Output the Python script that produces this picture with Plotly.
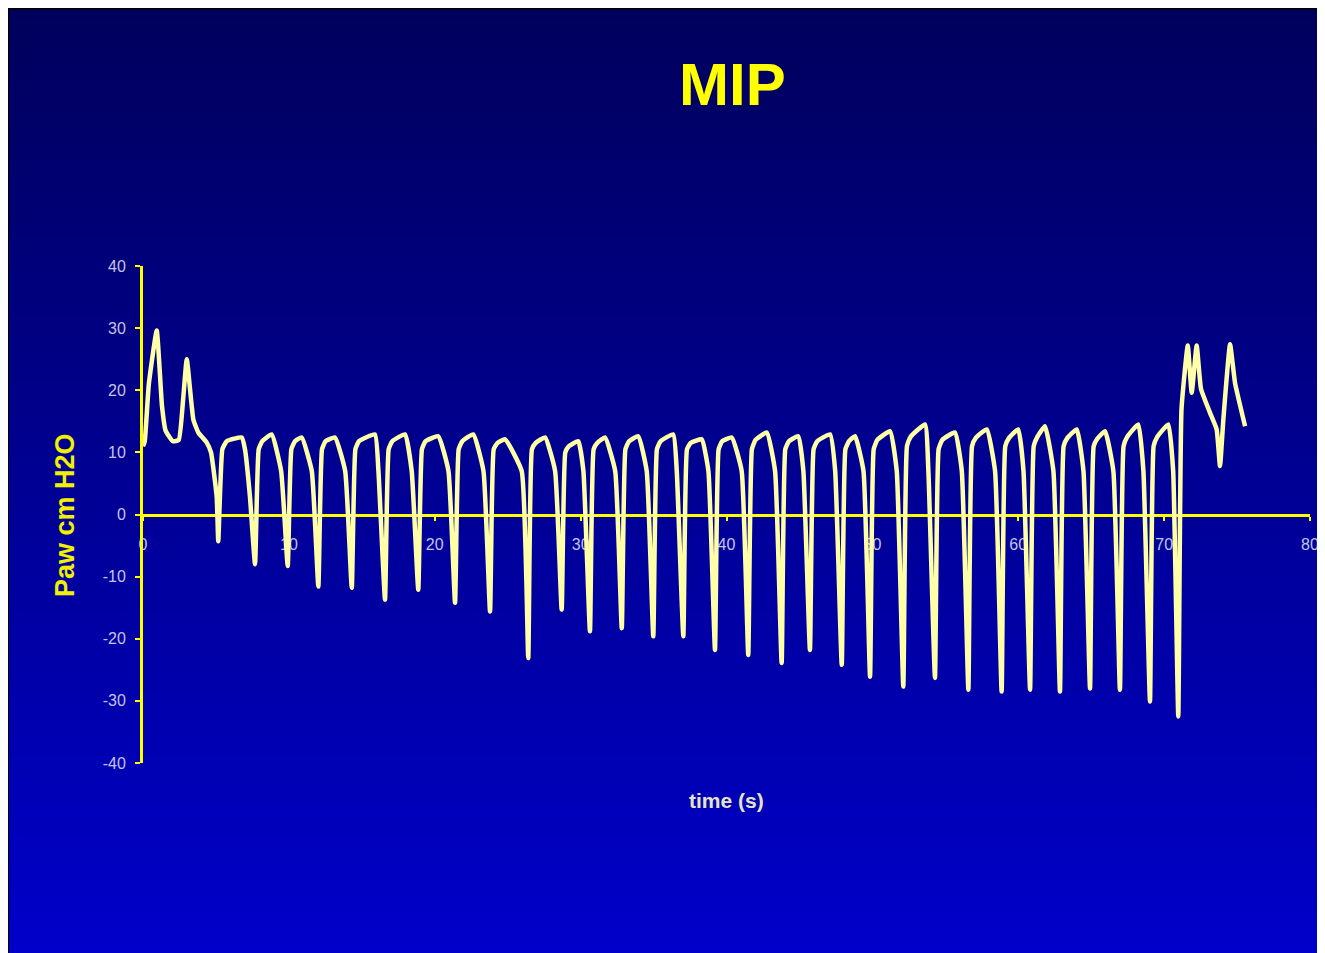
import plotly.graph_objects as go

# ---- data ----
time_s = [
    0.00, 0.12, 0.40, 0.94, 1.30, 1.55, 2.05, 2.45, 2.75, 3.00, 3.45, 3.79, 4.36, 4.66, 5.05,
    5.16, 5.44, 5.74, 6.77, 6.99, 7.33,
    7.68, 7.93, 8.18, 8.82, 9.47,
    9.92, 10.17, 10.42, 10.88, 11.57,
    12.02, 12.27, 12.52, 13.16, 13.86,
    14.31, 14.56, 14.81, 15.90, 16.14,
    16.59, 16.84, 17.09, 17.96, 18.42,
    18.87, 19.12, 19.37, 20.24, 20.94,
    21.39, 21.64, 21.89, 22.64, 23.34,
    23.79, 24.04, 24.29, 24.82, 25.96,
    26.41, 26.66, 26.91, 27.56, 28.25,
    28.70, 28.95, 29.20, 29.84, 30.19,
    30.64, 30.89, 31.14, 31.67, 32.37,
    32.82, 33.07, 33.32, 33.95, 34.53,
    34.98, 35.23, 35.48, 36.35, 36.59,
    37.04, 37.29, 37.54, 38.30, 38.76,
    39.21, 39.46, 39.71, 40.36, 41.04,
    41.49, 41.74, 41.99, 42.76, 43.33,
    43.78, 44.03, 44.28, 44.92, 45.27,
    45.72, 45.97, 46.22, 47.10, 47.45,
    47.90, 48.15, 48.40, 48.81, 49.39,
    49.84, 50.09, 50.34, 51.21, 51.67,
    52.12, 52.37, 52.62, 53.61, 53.84,
    54.29, 54.54, 54.79, 55.66, 56.13,
    56.58, 56.83, 57.08, 57.84, 58.41,
    58.86, 59.11, 59.36, 60.00, 60.36,
    60.81, 61.06, 61.31, 61.83, 62.41,
    62.86, 63.11, 63.36, 64.01, 64.47,
    64.92, 65.17, 65.42, 65.95, 66.52,
    66.97, 67.22, 67.47, 68.23, 68.58,
    69.03, 69.28, 69.53, 70.29, 70.62,
    70.97, 71.19, 71.62, 71.89, 72.23, 72.53, 73.14, 73.60, 73.83, 74.06, 74.52, 74.86, 75.55,
]
paw_cmh2o = [
    11.0, 11.8, 21.0, 29.6, 17.5, 13.5, 11.8, 12.0, 18.5, 25.0, 15.3, 13.2, 11.6, 10.0, 2.9,
    -4.3, 10.5, 11.8, 12.4, 10.5, 2.9,
    -8.0, 10.5, 11.8, 12.9, 7.0,
    -8.3, 10.5, 11.8, 12.4, 7.0,
    -11.6, 10.5, 11.8, 12.4, 7.0,
    -11.8, 10.5, 11.8, 12.9, 7.0,
    -13.7, 10.5, 11.8, 12.9, 7.0,
    -12.1, 10.5, 11.8, 12.6, 7.0,
    -14.2, 10.5, 11.8, 12.9, 7.0,
    -15.6, 10.5, 11.5, 12.1, 7.0,
    -23.1, 10.5, 11.5, 12.4, 7.0,
    -15.3, 10.0, 11.0, 11.8, 7.0,
    -18.8, 10.5, 11.5, 12.4, 7.0,
    -18.3, 10.5, 11.8, 12.6, 7.0,
    -19.6, 10.5, 11.8, 12.9, 7.0,
    -19.6, 10.5, 11.5, 12.1, 7.0,
    -21.8, 10.5, 11.8, 12.4, 7.0,
    -22.6, 10.5, 12.0, 13.2, 7.0,
    -23.9, 10.5, 11.8, 12.6, 7.0,
    -21.8, 10.5, 11.8, 12.9, 7.0,
    -24.2, 10.5, 11.8, 12.6, 7.0,
    -26.1, 10.5, 12.0, 13.4, 7.0,
    -27.7, 11.0, 12.5, 14.5, 7.0,
    -26.3, 10.5, 12.0, 13.2, 7.0,
    -28.2, 11.0, 12.3, 13.7, 7.0,
    -28.5, 11.0, 12.3, 13.7, 7.0,
    -28.2, 11.0, 12.5, 14.2, 7.0,
    -28.5, 11.0, 12.3, 13.7, 7.0,
    -28.0, 11.0, 12.2, 13.4, 7.0,
    -28.2, 11.0, 12.5, 14.5, 7.0,
    -30.1, 11.0, 12.5, 14.5, 7.0,
    -32.5, 16.9, 27.2, 19.6, 27.2, 20.2, 16.4, 13.7, 7.8, 15.3, 27.4, 21.2, 14.2,
]
y_ticks = [-40, -30, -20, -10, 0, 10, 20, 30, 40]
x_ticks = [0, 10, 20, 30, 40, 50, 60, 70, 80]

# page body margin of the browser shifts the figure by OFF pixels
OFF = 8
W, H = 1325 - OFF, 953 - OFF
# plot area in reference-screen pixels
L, R, T, B = 143, 1310, 266, 763


def px_to_paper_x(px):
    return (px - L) / (R - L)


def px_to_paper_y(py):
    return (B - py) / (B - T)


fig = go.Figure()
fig.add_trace(go.Scatter(
    x=time_s, y=paw_cmh2o, mode="lines",
    line=dict(color="#ffffa8", width=4.5, shape="spline", smoothing=0.4),
    showlegend=False, hoverinfo="skip",
))

# background: black frame + vertical blue gradient
shapes = []
top_px, bot_px, left_px, right_px = 10, 953, 9, 1330
n = 120
for i in range(n):
    y0 = top_px + (bot_px - top_px) * i / n
    y1 = top_px + (bot_px - top_px) * (i + 1) / n
    f = (i + 0.5) / n
    b = int(round(92 + (202 - 92) * f))
    shapes.append(dict(
        type="rect", xref="paper", yref="paper", layer="below",
        x0=px_to_paper_x(left_px), x1=px_to_paper_x(right_px),
        y0=px_to_paper_y(y1) - 0.001, y1=px_to_paper_y(y0) + 0.001,
        fillcolor=f"rgb(0,0,{b})", line=dict(width=0),
    ))

tick_font = dict(family="Arial, Liberation Sans, sans-serif", size=16, color="#c4c4e4")
FONT = "Arial, Liberation Sans, sans-serif"

fig.update_layout(
    width=W, height=H,
    paper_bgcolor="black", plot_bgcolor="rgba(0,0,0,0)",
    margin=dict(l=L - OFF, r=W - (R - OFF), t=T - OFF, b=H - (B - OFF), autoexpand=False),
    shapes=shapes,
    xaxis=dict(
        range=[0, 80], tickvals=x_ticks, ticktext=[str(v) for v in x_ticks],
        anchor="free", position=0.5, showline=True, linecolor="#ffff00", linewidth=3,
        ticks="outside", ticklen=4, tickwidth=2, tickcolor="#ffff00",
        ticklabelstandoff=10,
        tickfont=tick_font, showgrid=False, zeroline=False, layer="below traces",
    ),
    yaxis=dict(
        range=[-40, 40], tickvals=y_ticks, ticktext=[str(v) for v in y_ticks],
        showline=True, linecolor="#ffff00", linewidth=3,
        ticks="outside", ticklen=5, tickwidth=2, tickcolor="#ffff00",
        ticklabelstandoff=6,
        tickfont=tick_font, showgrid=False, zeroline=False,
    ),
    annotations=[
        dict(text="<b>MIP</b>", x=px_to_paper_x(732), y=px_to_paper_y(85),
             xref="paper", yref="paper", showarrow=False, xanchor="center", yanchor="middle",
             font=dict(family=FONT, size=60, color="#ffff00")),
        dict(text="<b>Paw cm H2O</b>", x=px_to_paper_x(65), y=px_to_paper_y(515),
             xref="paper", yref="paper", showarrow=False, textangle=-90,
             xanchor="center", yanchor="middle",
             font=dict(family=FONT, size=27, color="#f0f000")),
        dict(text="<b>time (s)</b>", x=px_to_paper_x(726), y=px_to_paper_y(800),
             xref="paper", yref="paper", showarrow=False, xanchor="center", yanchor="middle",
             font=dict(family=FONT, size=21, color="#e4e4c0")),
    ],
)

fig.write_html("out.html")
